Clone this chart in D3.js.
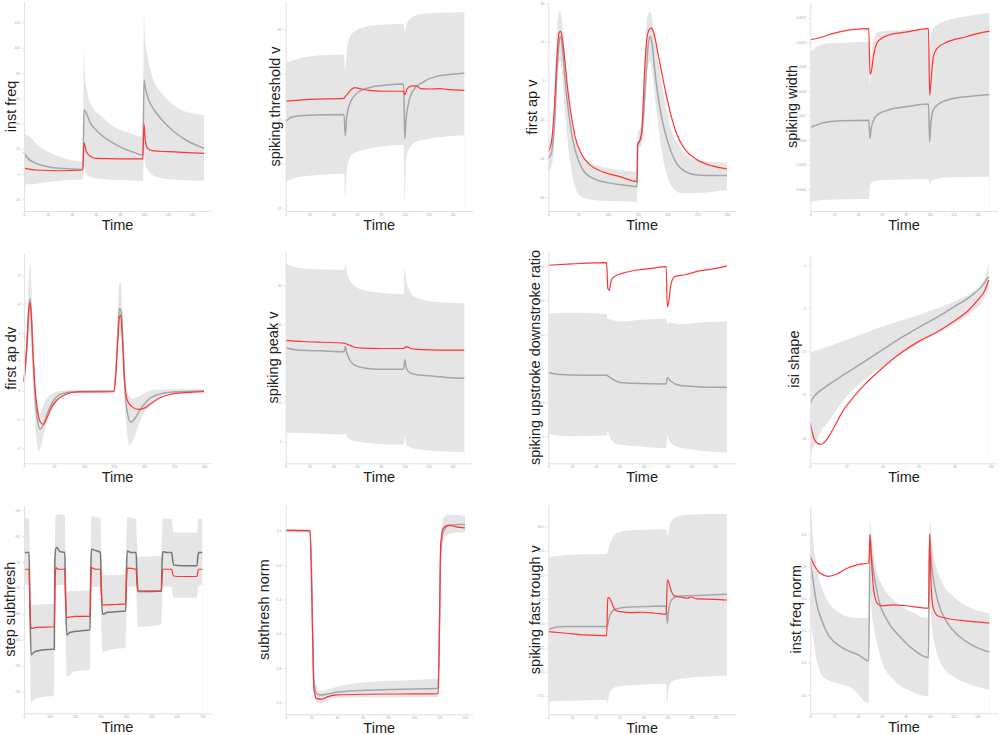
<!DOCTYPE html>
<html>
<head>
<meta charset="utf-8">
<script src="https://cdn.jsdelivr.net/npm/d3@7"></script>
<style>
  body { margin: 0; background: #fff; }
  svg { display: block; font-family: "Liberation Sans", Arial, sans-serif; }
  .domain { stroke: #e2e2e2; }
  .tick line { stroke: #e2e2e2; }
  .tick text { fill: #aaa; font-size: 3.3px; }
</style>
</head>
<body>
<svg id="chart" width="1000" height="735"></svg>
<script>
// ---- data ----
var ticks150 = [0, 20, 40, 60, 80, 100, 120, 140];
var ticks300 = [0, 50, 100, 150, 200, 250, 300];

// inst freq
var instFreqMean = [[0,17.7],[2,13.7],[10,8.4],[20,5.8],[30,4.5],[49,3.7],[50,50.7],[52,48],[55,41],[60,35],[70,27],[80,21.6],[90,17.7],[99,15],[100,74.4],[101,69],[103,61],[107,53],[115,42.8],[125,33.5],[135,26.9],[150,20.3]];
var instFreqRed = [[0,4.5],[10,3.2],[30,2.6],[49,3.2],[50,24.8],[52,17.7],[55,14.3],[60,12.4],[80,12.1],[99,12.1],[100,39.6],[101,26.9],[103,20.3],[107,18.5],[120,17.7],[150,16.4]];
var instFreqHi = [[0,58.6],[1,32.2],[5,29.6],[10,24.3],[20,17.7],[30,13.7],[49,9.8],[50,98],[51,77],[53,63.9],[57,53.3],[65,45.4],[75,37.5],[85,33.5],[99,29.6],[100,128.5],[101,106],[103,92.9],[107,77],[115,63.9],[125,54.6],[135,49.3],[150,46.7]];
var instFreqLo = [[0,-20.6],[2,-7.4],[5,-8.2],[15,-6.9],[30,-5.3],[49,-4.2],[50,5.8],[52,0.5],[55,-2.1],[65,-4],[80,-4.8],[99,-5.5],[100,13.7],[101,8.4],[103,3.2],[107,-0.8],[115,-3.4],[130,-4.8],[150,-5.3]];
var instFreqYTicks = [-20, 0, 20, 40, 60, 80, 100, 120];

// spiking threshold v
var thresholdMean = [[0,-45.3],[5,-44.8],[15,-44.6],[49,-44.5],[50,-46.9],[51,-45.1],[53,-43.6],[56,-42.7],[60,-42.1],[70,-41.5],[85,-41.2],[99,-41.1],[100,-47.2],[101,-45.1],[103,-43.3],[107,-41.8],[115,-40.9],[125,-40.3],[140,-40],[150,-39.9]];
var thresholdRed = [[0,-43.0],[20,-42.8],[49,-42.7],[50,-42.5],[52,-42.2],[55,-41.7],[58,-41.5],[62,-41.6],[70,-41.8],[85,-41.9],[99,-41.9],[100,-42.3],[102,-41.6],[106,-41.3],[110,-41.3],[113,-41.6],[120,-41.65],[130,-41.6],[135,-41.7],[150,-41.8]];
var thresholdHi = [[0,-38.7],[10,-38.3],[30,-37.9],[49,-37.8],[50,-39.7],[51,-37.7],[53,-36.2],[57,-35.3],[65,-34.8],[80,-34.5],[99,-34.4],[100,-35.3],[101,-34.7],[103,-34.0],[108,-33.5],[120,-33.2],[150,-33.1]];
var thresholdLo = [[0,-52.0],[10,-51.5],[30,-51.2],[49,-51.1],[50,-53.7],[51,-51.0],[53,-49.6],[57,-48.8],[70,-48.3],[99,-47.9],[100,-54.0],[101,-49.6],[103,-48.5],[110,-47.5],[125,-47.1],[150,-46.8]];
var thresholdYTicks = [-55, -50, -45, -40, -35];

// first ap v
var apVMean = [[0,-39.9],[5,-37.3],[10,-23.5],[15,7.4],[18,19.4],[20,22.9],[22,21.1],[25,11.7],[30,-5.5],[35,-18.4],[40,-28.7],[50,-40.7],[60,-46.7],[75,-50.2],[100,-52.4],[125,-53.6],[149,-54.5],[150,-32],[155,-30.4],[160,-16.7],[165,7.4],[168,19.4],[171,22.9],[174,19.4],[178,7.4],[185,-9.8],[195,-25.3],[205,-35.6],[215,-42.4],[230,-46.7],[250,-48.5],[275,-48.8],[300,-48.8]];
var apVRed = [[0,-36.4],[5,-32.1],[10,-14.9],[15,14.3],[18,24.6],[20,25.4],[23,22.9],[27,12.5],[32,-2.9],[38,-16.7],[45,-28.7],[55,-37.3],[70,-43.3],[90,-46.7],[120,-49.3],[149,-51.9],[150,-33],[153,-31.3],[157,-25.3],[162,7.4],[166,22.9],[170,26.6],[173,27.1],[177,24.6],[185,12.5],[195,-2.9],[205,-16.7],[215,-27.0],[230,-35.6],[250,-40.7],[275,-43.8],[300,-45.4]];
var apVHi = [[0,-33.8],[5,-30.4],[10,-9.8],[14,24.6],[17,34.0],[19,35.7],[22,33.2],[25,24.6],[30,7.4],[35,-9.8],[40,-21.8],[50,-33.8],[65,-40.7],[90,-44.2],[120,-45.9],[149,-46.7],[150,-27],[155,-23.5],[160,-1.2],[164,26.3],[168,34.9],[171,35.4],[174,32.3],[178,22.9],[185,9.1],[195,-9.8],[205,-23.5],[220,-33.8],[240,-39.9],[270,-41.6],[300,-42.1]];
var apVLo = [[0,-46.7],[5,-44.2],[10,-33.8],[14,-9.8],[17,7.4],[20,10.0],[23,4.0],[27,-13.2],[32,-30.4],[38,-44.2],[45,-54.5],[55,-59.6],[75,-61.3],[110,-61.9],[149,-62.2],[150,-34.5],[155,-33.8],[160,-27],[164,-6.4],[168,9.1],[171,10],[175,2.2],[182,-16.7],[190,-35.6],[200,-49.3],[212,-56.2],[225,-57.9],[260,-57.6],[300,-56.2]];
var apVYTicks = [-60, -40, -20, 0, 20, 40];

// spiking width
var widthMean = [[0,6.52e-4],[10,6.71e-4],[25,6.80e-4],[49,6.82e-4],[50,6.08e-4],[51,6.48e-4],[53,6.82e-4],[57,7.07e-4],[65,7.23e-4],[80,7.37e-4],[99,7.48e-4],[100,5.94e-4],[101,6.69e-4],[103,7.23e-4],[108,7.50e-4],[120,7.71e-4],[135,7.80e-4],[150,7.87e-4]];
var widthRed = [[0,10.11e-4],[10,10.22e-4],[20,10.38e-4],[35,10.52e-4],[49,10.56e-4],[50,8.70e-4],[51,8.79e-4],[53,9.47e-4],[57,10.06e-4],[65,10.29e-4],[80,10.42e-4],[99,10.56e-4],[100,7.84e-4],[101,8.32e-4],[103,9.40e-4],[106,9.74e-4],[115,10.02e-4],[130,10.22e-4],[140,10.36e-4],[150,10.46e-4]];
var widthHi = [[0,9.57e-4],[5,9.81e-4],[15,9.95e-4],[49,10.02e-4],[50,8.25e-4],[51,9.27e-4],[53,10.08e-4],[57,10.42e-4],[70,10.49e-4],[99,10.52e-4],[100,9.74e-4],[101,10.22e-4],[103,10.56e-4],[108,10.76e-4],[120,10.97e-4],[135,11.10e-4],[150,11.21e-4]];
var widthLo = [[0,3.49e-4],[10,3.56e-4],[30,3.59e-4],[49,3.60e-4],[50,4.11e-4],[52,4.31e-4],[60,4.38e-4],[80,4.40e-4],[99,4.42e-4],[100,4.17e-4],[101,4.31e-4],[105,4.42e-4],[120,4.49e-4],[150,4.51e-4]];
var widthYTicks = [0.0004, 0.0005, 0.0006, 0.0007, 0.0008, 0.0009, 0.0010, 0.0011];

// first ap dv
var apDvMean = [[0,0.63],[5,3.2],[8,5.5],[10,6.4],[12,5.5],[15,2.5],[18,-0.07],[22,-1.9],[27,-2.67],[32,-2.4],[40,-1.46],[50,-0.65],[65,-0.19],[85,-0.07],[150,-0.02],[153,1.32],[156,3.64],[159,5.72],[162,5.5],[165,3.4],[168,0.39],[172,-1.46],[178,-2.2],[185,-1.92],[195,-1.23],[210,-0.53],[230,-0.19],[260,-0.07],[300,-0.02]];
var apDvRed = [[0,0.63],[5,3.4],[8,5.72],[10,6.14],[12,5.26],[15,2.71],[18,0.39],[22,-1.23],[27,-2.16],[32,-2.34],[38,-1.92],[45,-1.23],[55,-0.65],[70,-0.25],[90,-0.09],[150,-0.07],[153,1.09],[156,3.17],[159,5.14],[161,5.26],[164,3.64],[167,1.09],[172,-0.65],[180,-1.11],[190,-1.3],[200,-1.23],[210,-0.95],[225,-0.53],[245,-0.25],[270,-0.14],[300,-0.07]];
var apDvHi = [[0,0.86],[5,4.33],[8,7.81],[10,8.85],[12,7.58],[15,3.87],[18,0.86],[22,-0.76],[27,-1.58],[32,-1.0],[40,-0.42],[55,-0.07],[80,0.05],[150,0.05],[153,1.78],[156,5.03],[159,7.46],[161,7.58],[164,5.26],[167,1.78],[172,-0.07],[180,-0.53],[190,-0.42],[205,-0.07],[230,0.09],[300,0.12]];
var apDvLo = [[0,0.39],[5,2.25],[8,3.64],[10,4.1],[12,2.94],[15,0.39],[18,-1.92],[22,-3.78],[25,-4.24],[28,-3.89],[33,-3.08],[40,-2.04],[50,-1.0],[65,-0.42],[85,-0.14],[150,-0.07],[153,0.86],[156,2.48],[159,4.1],[162,3.64],[165,1.32],[168,-1.0],[172,-3.08],[176,-3.78],[182,-3.43],[190,-2.5],[200,-1.58],[215,-0.76],[235,-0.3],[265,-0.12],[300,-0.07]];
var apDvYTicks = [-4, -2, 0, 2, 4, 6, 8];

// spiking peak v
var peakMean = [[0,24.0],[10,23.4],[30,23.2],[49,23.0],[50,24.3],[51,23.0],[53,21.3],[57,19.7],[65,18.9],[80,18.5],[99,18.5],[100,20.9],[101,19.1],[103,17.9],[108,17.2],[120,16.8],[135,16.4],[150,16.2]];
var peakRed = [[0,25.9],[15,25.6],[30,25.4],[49,25.2],[50,25.1],[53,24.7],[57,24.2],[65,23.9],[80,23.8],[99,23.8],[100,24.1],[102,24.2],[105,23.8],[110,23.6],[130,23.4],[150,23.4]];
var peakHi = [[0,45.6],[10,44.5],[30,44.1],[49,43.9],[50,45.6],[51,43.9],[53,41.8],[57,40.1],[65,38.8],[80,38.1],[99,37.7],[100,44.5],[101,41.8],[103,39.2],[108,37.1],[120,36.0],[135,35.6],[150,35.3]];
var peakLo = [[0,2.2],[20,2.1],[49,1.8],[50,2.1],[52,0.9],[58,0.1],[75,-0.5],[99,-0.8],[100,1.4],[101,-0.5],[104,-1.4],[115,-2.2],[135,-2.6],[150,-2.8]];
var peakYTicks = [0, 10, 20, 30, 40];

// spiking upstroke downstroke ratio
var ratioMean = [[0,2.44],[10,2.41],[30,2.40],[49,2.40],[50,2.39],[55,2.33],[60,2.29],[70,2.28],[99,2.27],[100,2.36],[103,2.31],[110,2.25],[125,2.23],[150,2.22]];
var ratioRed = [[0,4.02],[20,4.04],[49,4.06],[50,3.68],[51,3.65],[53,3.80],[56,3.86],[62,3.90],[75,3.95],[85,3.97],[99,4.0],[100,3.41],[101,3.46],[103,3.73],[106,3.85],[115,3.88],[125,3.93],[140,3.97],[150,4.01]];
var ratioHi = [[0,3.31],[20,3.32],[49,3.30],[50,3.23],[52,3.22],[60,3.19],[80,3.22],[99,3.23],[100,3.14],[101,3.18],[110,3.15],[130,3.18],[150,3.19]];
var ratioLo = [[0,1.53],[20,1.50],[49,1.51],[50,1.57],[52,1.47],[58,1.38],[75,1.35],[99,1.32],[100,1.52],[101,1.45],[105,1.37],[120,1.30],[150,1.26]];
var ratioYTicks = [1.5, 2.0, 2.5, 3.0, 3.5, 4.0];

// isi shape
var isiMean = [[0,-15.96],[2,-15.2],[5,-14.6],[10,-13.85],[20,-12.5],[30,-11.15],[40,-9.8],[50,-8.46],[60,-7.23],[70,-6.08],[80,-4.81],[90,-3.46],[95,-2.5],[99,-1.35]];
var isiRed = [[0,-18.3],[2,-20],[4,-20.6],[6,-20.7],[9,-20.2],[13,-18.8],[18,-16.9],[25,-15],[30,-13.85],[40,-11.9],[50,-10.2],[60,-8.85],[70,-7.77],[80,-6.46],[88,-5.2],[93,-4.04],[97,-2.88],[99,-1.73]];
var isiHi = [[0,-10.1],[10,-9.4],[20,-8.65],[40,-7.1],[60,-5.77],[80,-4.23],[90,-3.08],[96,-1.92],[99,0.19]];
var isiLo = [[0,-21.5],[3,-20.6],[6,-19.2],[10,-18.1],[20,-15.2],[30,-13.3],[40,-11.7],[50,-10.4],[60,-9.1],[70,-8.0],[80,-6.85],[90,-5.38],[96,-4.04],[99,-2.69]];
var isiXTicks = [0, 20, 40, 60, 80, 100];
var isiYTicks = [-20, -15, -10, -5, 0];

// step subthresh
var stepMean = [[0,-68.15],[20,-68.15],[23,-78],[28,-87.9],[40,-87.4],[70,-87.0],[119,-86.8],[121,-70],[125,-67.4],[130,-67.2],[140,-68.0],[160,-68.15],[163,-76],[168,-84.1],[180,-83.6],[220,-83.3],[259,-83.1],[262,-72],[265,-67.5],[275,-67.7],[300,-68.15],[303,-74],[308,-80.1],[330,-79.7],[360,-79.6],[399,-79.45],[402,-72],[405,-67.9],[420,-68.15],[440,-68.15],[443,-72],[448,-75.7],[470,-75.7],[539,-75.6],[542,-70],[545,-68.0],[560,-68.15],[580,-68.15],[583,-69.5],[588,-70.6],[620,-70.7],[679,-70.7],[682,-69.2],[685,-68.15],[700,-68.15]];
var stepRed = [[0,-71.4],[20,-71.4],[23,-78],[28,-82.8],[50,-82.6],[119,-82.5],[122,-74],[125,-71.1],[135,-71.4],[160,-71.4],[163,-77],[168,-80.7],[200,-80.5],[259,-80.5],[262,-74],[265,-71.1],[280,-71.4],[300,-71.4],[303,-75.5],[308,-78.3],[360,-78.2],[399,-78.1],[402,-74],[405,-71.2],[440,-71.4],[443,-74],[448,-75.6],[539,-75.6],[542,-73],[545,-71.4],[580,-71.4],[583,-72.2],[588,-72.7],[620,-72.8],[679,-72.8],[682,-72],[685,-71.4],[700,-71.4]];
var stepHi = [[0,-61.6],[20,-61.6],[23,-70],[28,-78.3],[60,-78.2],[119,-78.0],[122,-65],[125,-61.0],[135,-60.8],[160,-61.0],[163,-69],[168,-75.7],[200,-75.6],[259,-75.4],[262,-66],[265,-61.1],[280,-61.3],[300,-61.5],[303,-67],[308,-72.6],[360,-72.5],[399,-72.4],[402,-66],[405,-61.3],[425,-61.5],[440,-61.6],[443,-65.5],[448,-69.0],[539,-68.8],[542,-64],[545,-61.5],[560,-61.6],[580,-61.7],[583,-63.2],[588,-64.3],[679,-64.3],[682,-63],[685,-61.7],[700,-61.6]];
var stepLo = [[0,-74.4],[20,-74.4],[23,-86],[28,-97.2],[40,-96.6],[70,-96.1],[119,-95.8],[121,-76.4],[125,-74.6],[160,-74.4],[163,-84],[168,-92.1],[200,-91.1],[259,-90.8],[262,-80],[265,-74.8],[300,-74.8],[303,-81],[308,-87.3],[350,-86.8],[399,-86.6],[402,-80],[405,-74.8],[440,-74.8],[443,-79],[448,-82.5],[539,-82.1],[542,-78],[545,-74.8],[580,-74.8],[583,-76],[588,-76.9],[679,-76.9],[682,-75.5],[685,-74.6],[700,-74.4]];
var stepXTicks = [0, 100, 200, 300, 400, 500, 600, 700];
var stepYTicks = [-95, -90, -85, -80, -75, -70, -65, -60];

// subthresh norm
var normMean = [[0,0],[19,0],[20,-0.18],[21,-0.57],[22,-0.88],[24,-0.948],[27,-0.957],[32,-0.953],[40,-0.942],[50,-0.934],[70,-0.928],[100,-0.922],[119,-0.918],[120,-0.57],[121,-0.142],[123,-0.006],[127,0.029],[135,0.037],[140,0.037]];
var normRed = [[0,0.004],[19,0],[20,-0.22],[21,-0.61],[22,-0.92],[24,-0.977],[28,-0.982],[33,-0.967],[40,-0.957],[60,-0.953],[100,-0.951],[119,-0.949],[120,-0.61],[121,-0.08],[123,0.014],[127,0.033],[133,0.023],[140,0.017]];
var normHi = [[0,0.01],[19,0.01],[20,-0.16],[21,-0.51],[22,-0.80],[24,-0.899],[27,-0.934],[32,-0.928],[40,-0.909],[50,-0.895],[70,-0.879],[100,-0.870],[119,-0.860],[120,-0.51],[121,-0.045],[123,0.072],[127,0.095],[135,0.091],[140,0.082]];
var normLo = [[0,-0.01],[19,-0.01],[20,-0.258],[21,-0.647],[22,-0.948],[24,-1.0],[28,-1.006],[35,-0.98],[45,-0.973],[70,-0.971],[119,-0.969],[120,-0.666],[121,-0.18],[123,-0.064],[127,-0.02],[135,-0.01],[140,-0.01]];
var normYTicks = [-1.0, -0.8, -0.6, -0.4, -0.2, 0.0];

// spiking fast trough v
var troughMean = [[0,-50.67],[5,-50.43],[15,-50.33],[49,-50.33],[50,-50.16],[51,-49.47],[53,-48.85],[57,-48.51],[65,-48.33],[80,-48.26],[99,-48.2],[100,-49.99],[101,-48.78],[103,-47.68],[108,-47.23],[120,-47.13],[135,-47.06],[150,-46.99]];
var troughRed = [[0,-50.85],[15,-51.02],[30,-51.19],[49,-51.26],[50,-47.4],[51,-47.33],[53,-47.75],[56,-48.61],[60,-48.78],[70,-48.88],[80,-48.85],[90,-48.95],[99,-49.06],[100,-45.51],[101,-45.68],[103,-46.54],[106,-47.16],[112,-47.3],[117,-47.4],[120,-47.27],[125,-47.47],[140,-47.51],[150,-47.58]];
var troughHi = [[0,-43.17],[10,-43.0],[30,-42.86],[49,-42.82],[50,-42.58],[52,-41.72],[55,-40.93],[60,-40.52],[75,-40.34],[99,-40.28],[100,-41.03],[101,-40.52],[103,-39.48],[108,-38.97],[120,-38.73],[150,-38.69]];
var troughLo = [[0,-58.08],[20,-58.01],[49,-57.91],[50,-58.25],[51,-57.39],[53,-56.87],[58,-56.53],[75,-56.36],[99,-56.25],[100,-58.25],[101,-56.7],[104,-56.01],[115,-55.67],[135,-55.5],[150,-55.39]];
var troughYTicks = [-57.5, -55.0, -52.5, -50.0, -47.5, -45.0, -42.5, -40.0];

// inst freq norm
var freqNormMean = [[0,0.83],[2,0.73],[5,0.58],[10,0.456],[15,0.373],[20,0.33],[30,0.28],[40,0.25],[49,0.212],[50,0.996],[51,0.892],[53,0.768],[57,0.602],[65,0.456],[75,0.363],[85,0.29],[99,0.232],[100,1.0],[101,0.871],[103,0.726],[107,0.58],[115,0.446],[125,0.363],[135,0.311],[150,0.266]];
var freqNormRed = [[0,0.86],[3,0.81],[8,0.757],[15,0.737],[22,0.75],[30,0.784],[40,0.81],[49,0.82],[50,0.996],[51,0.87],[53,0.66],[56,0.571],[60,0.554],[70,0.56],[80,0.554],[99,0.539],[100,1.0],[101,0.726],[103,0.539],[107,0.49],[115,0.475],[130,0.46],[150,0.446]];
var freqNormHi = [[0,1.18],[2,1.0],[5,0.81],[10,0.66],[15,0.58],[25,0.508],[35,0.481],[49,0.477],[50,1.079],[52,0.934],[55,0.788],[60,0.685],[70,0.589],[85,0.515],[99,0.477],[100,1.079],[102,0.934],[105,0.81],[110,0.705],[120,0.612],[135,0.539],[150,0.508]];
var freqNormLo = [[0,0.456],[2,0.373],[5,0.228],[8,0.145],[12,0.104],[20,0.079],[35,0.041],[49,-0.052],[50,0.622],[52,0.477],[55,0.353],[60,0.207],[70,0.093],[85,0.021],[99,-0.01],[100,0.602],[102,0.415],[105,0.29],[110,0.187],[120,0.114],[135,0.062],[150,0.031]];
var freqNormYTicks = [0.0, 0.2, 0.4, 0.6, 0.8, 1.0];

// ---- layout: frame = [left, top, right, bottom] in page pixels ----
var panels = [
  {label: "inst freq", mean: instFreqMean, red: instFreqRed, hi: instFreqHi, lo: instFreqLo, xt: ticks150, yt: instFreqYTicks, fmt: "d",
   frame: [24, 2, 211, 211], xd: [0, 155.8], yd: [-29.3, 136.4], labelX: 11},
  {label: "spiking threshold v", mean: thresholdMean, red: thresholdRed, hi: thresholdHi, lo: thresholdLo, xt: ticks150, yt: thresholdYTicks, fmt: "d",
   frame: [285.7, 2, 472.7, 211], xd: [0, 157], yd: [-55.25, -31.95], labelX: 275},
  {label: "first ap v", mean: apVMean, red: apVRed, hi: apVHi, lo: apVLo, xt: ticks300, yt: apVYTicks, fmt: "d",
   frame: [548.3, 3, 736, 211], xd: [0, 315], yd: [-67, 40], labelX: 532},
  {label: "spiking width", mean: widthMean, red: widthRed, hi: widthHi, lo: widthLo, xt: ticks150, yt: widthYTicks, fmt: ".4f",
   frame: [810.3, 2, 997.7, 211], xd: [0, 157], yd: [3.11e-4, 11.65e-4], labelX: 792},

  {label: "first ap dv", mean: apDvMean, red: apDvRed, hi: apDvHi, lo: apDvLo, xt: ticks300, yt: apDvYTicks, fmt: "d",
   frame: [24, 253.3, 211, 463.3], xd: [0, 311.7], yd: [-5.05, 9.55], labelX: 11},
  {label: "spiking peak v", mean: peakMean, red: peakRed, hi: peakHi, lo: peakLo, xt: ticks150, yt: peakYTicks, fmt: "d",
   frame: [285.7, 251.7, 472.7, 463.3], xd: [0, 157], yd: [-5.6, 48.6], labelX: 273},
  {label: "spiking upstroke downstroke ratio", mean: ratioMean, red: ratioRed, hi: ratioHi, lo: ratioLo, xt: ticks150, yt: ratioYTicks, fmt: ".1f",
   frame: [548.3, 251.7, 736, 463.3], xd: [0, 157.7], yd: [1.10, 4.22], labelX: 535},
  {label: "isi shape", mean: isiMean, red: isiRed, hi: isiHi, lo: isiLo, xt: isiXTicks, yt: isiYTicks, fmt: "d",
   frame: [810.3, 255, 997.7, 463.3], xd: [0, 104], yd: [-22.9, 1.15], labelX: 794},

  {label: "step subthresh", mean: stepMean, red: stepRed, hi: stepHi, lo: stepLo, xt: stepXTicks, yt: stepYTicks, fmt: "d",
   frame: [24, 505, 211, 713.3], xd: [0, 734], yd: [-99.2, -59.0], labelX: 10, grey: "#777"},
  {label: "subthresh norm", mean: normMean, red: normRed, hi: normHi, lo: normLo, xt: ticks150, yt: normYTicks, fmt: ".1f",
   frame: [285.7, 505, 472.7, 714.3], xd: [0, 146], yd: [-1.07, 0.15], labelX: 264},
  {label: "spiking fast trough v", mean: troughMean, red: troughRed, hi: troughHi, lo: troughLo, xt: ticks150, yt: troughYTicks, fmt: ".1f",
   frame: [548.3, 505, 736, 714.3], xd: [0, 157.7], yd: [-59.4, -37.76], labelX: 535},
  {label: "inst freq norm", mean: freqNormMean, red: freqNormRed, hi: freqNormHi, lo: freqNormLo, xt: ticks150, yt: freqNormYTicks, fmt: ".1f",
   frame: [810.3, 505, 997.7, 713.3], xd: [0, 157], yd: [-0.114, 1.18], labelX: 796}
];

var svg = d3.select("#chart");
var defs = svg.append("defs");

panels.forEach(function (p, i) {
  var l = p.frame[0], t = p.frame[1], r = p.frame[2], b = p.frame[3];
  var x = d3.scaleLinear().domain(p.xd).range([l, r]);
  var y = d3.scaleLinear().domain(p.yd).range([b, t]);
  var g = svg.append("g");

  var areaDown = d3.area()
    .x(function (d) { return x(d[0]); })
    .y0(b)
    .y1(function (d) { return y(d[1]); })
    .curve(d3.curveMonotoneX);

  // band = area under the upper bound, masked by the area under the lower bound
  var mask = defs.append("mask").attr("id", "band" + i);
  mask.append("rect").attr("x", l).attr("y", t - 5).attr("width", r - l).attr("height", b - t + 10).attr("fill", "#fff");
  mask.append("path").attr("d", areaDown(p.lo)).attr("fill", "#000");

  g.append("path")
    .attr("d", areaDown(p.hi))
    .attr("fill", "#e5e5e5")
    .attr("mask", "url(#band" + i + ")");

  var line = d3.line()
    .x(function (d) { return x(d[0]); })
    .y(function (d) { return y(d[1]); })
    .curve(d3.curveMonotoneX);

  g.append("path").attr("d", line(p.mean))
    .attr("fill", "none").attr("stroke", p.grey || "#a6a6a6").attr("stroke-width", 1.5);
  g.append("path").attr("d", line(p.red))
    .attr("fill", "none").attr("stroke", "#ff3535").attr("stroke-width", 1.2);

  // axes
  g.append("g").attr("transform", "translate(0," + b + ")")
    .call(d3.axisBottom(x).tickValues(p.xt).tickSize(2).tickSizeOuter(0).tickPadding(0.5).tickFormat(d3.format("d")));
  g.append("g").attr("transform", "translate(" + l + ",0)")
    .call(d3.axisLeft(y).tickValues(p.yt).tickSize(2).tickSizeOuter(0).tickPadding(2).tickFormat(d3.format(p.fmt)));

  // titles
  g.append("text")
    .attr("x", (l + r) / 2).attr("y", b + 19)
    .attr("text-anchor", "middle")
    .attr("font-size", 14.5).attr("fill", "#222")
    .text("Time");
  g.append("text")
    .attr("transform", "translate(" + (p.labelX + 5) + "," + ((t + b) / 2) + ") rotate(-90)")
    .attr("text-anchor", "middle")
    .attr("font-size", 14.5).attr("fill", "#222")
    .text(p.label);
});
</script>
</body>
</html>
